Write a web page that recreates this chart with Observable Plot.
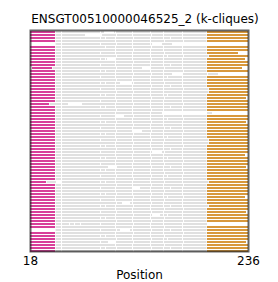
<!DOCTYPE html>
<html><head><meta charset="utf-8">
<script src="https://cdn.jsdelivr.net/npm/d3@7"></script>
<script src="https://cdn.jsdelivr.net/npm/@observablehq/plot@0.6"></script>
<style>body{margin:0;background:#fff}</style>
</head><body><div id="chart"></div>
<script>
const title = "ENSGT00510000046525_2 (k-cliques)";
const xLabel = "Position";
const xTicks = [18, 236];
const nRows = 74;

// magenta block per row (null = none)
const magentaStart = [18,18,18,18,null,18,18,18,18,18,18,18,20,18,18,18,18,18,18,18,18,18,18,18,18,18,18,18,18,18,18,18,18,18,18,18,18,18,18,18,18,18,18,18,18,18,18,18,18,18,18,18,18,18,18,18,18,18,18,18,18,18,18,18,18,18,null,18,18,18,18,18,18,18];
const magentaEnd   = [43,43,43,43,null,43,43,43,43,43,43,43,40,43,43,43,43,43,43,43,43,43,43,43,37,43,43,43,43,43,43,43,43,43,43,43,43,43,43,43,43,43,43,43,43,43,43,43,43,43,34,43,43,43,43,43,43,43,43,43,43,43,43,43,43,43,null,43,43,43,43,43,43,43];
// orange block per row (null = none)
const orangeStart = [195,195,195,195,null,195,195,195,197,195,195,195,195,195,null,195,195,195,195,197,197,195,195,195,195,195,195,null,195,195,195,195,195,195,195,195,197,197,195,195,195,195,195,195,195,195,195,195,195,195,197,195,195,195,195,195,195,195,197,195,195,195,195,195,null,195,195,195,195,195,195,195,195,195];
const orangeEnd   = [236,236,236,236,null,236,236,226,236,233,236,236,230,236,null,236,236,236,236,236,236,236,234,236,236,236,236,null,236,236,234,236,236,236,236,236,236,236,236,236,236,233,236,236,236,234,236,236,236,236,236,236,236,236,236,233,236,236,236,236,234,236,236,236,null,236,236,236,236,236,234,236,236,236];
// where the gray run ends per row
const grayEnd = [194.5,194.5,194.5,194.5,160,194.5,194.5,194.5,196.5,194.5,194.5,194.5,194.5,194.5,206,194.5,194.5,194.5,194.5,196.5,196.5,194.5,194.5,194.5,194.5,194.5,194.5,200,194.5,194.5,194.5,194.5,194.5,194.5,194.5,194.5,196.5,196.5,194.5,194.5,194.5,194.5,194.5,194.5,194.5,194.5,194.5,194.5,194.5,194.5,196.5,194.5,194.5,194.5,194.5,194.5,194.5,194.5,196.5,194.5,194.5,194.5,194.5,194.5,195,194.5,194.5,194.5,194.5,194.5,194.5,194.5,194.5,194.5];
// small white breaks inside each gray run
const grayGaps = [
 [49,88,103,120,138,151,170],
 [49,104,120,139,151,170],
 [49,88,93,103,121,138,151,158,170],
 [49,103,120,138,152,171],
 [49,88,104,120,138],
 [49,93,103,120,139,151,170],
 [49,103,121,138,151,170],
 [49,88,103,120,138,152,170],
 [49,104,120,138,151,155,171],
 [49,88,93,103,120,139,151,170],
 [49,103,121,138,151,170],
 [49,88,103,120,138,151,158,170],
 [49,104,120,138,152,170],
 [49,88,93,103,120,138,151,171],
 [49,103,121,139,151,170,195],
 [49,88,103,120,138,151,155,170],
 [49,104,120,138,151,170],
 [49,88,93,103,121,138,152,170],
 [49,103,120,139,151,158,170],
 [49,88,103,120,138,151,171],
 [49,104,121,138,151,170],
 [49,88,93,103,120,138,151,155,170],
 [49,103,120,139,152,170],
 [49,88,104,120,138,151,170],
 [49,103,121,138,151,171],
 [49,88,93,103,120,138,151,158,170],
 [49,104,120,139,151,170],
 [49,103,120,138,152,170],
 [49,88,103,121,138,151,170],
 [49,103,120,138,151,155,171],
 [49,88,93,104,120,139,151,170],
 [49,103,121,138,151,170],
 [49,88,103,120,138,152,158,170],
 [49,104,120,139,151,171],
 [49,88,93,103,121,138,151,170],
 [49,103,120,138,151,155,170],
 [49,88,104,120,139,152,170],
 [49,103,121,138,151,170],
 [49,88,93,103,120,138,151,171],
 [49,104,120,139,151,158,170],
 [49,88,103,121,138,152,170],
 [49,103,120,138,151,170],
 [49,88,93,104,120,139,151,155,170],
 [49,103,121,138,151,171],
 [49,88,103,120,138,152,170],
 [49,104,120,139,151,158,170],
 [49,88,93,103,121,138,151,170],
 [49,103,120,138,152,171],
 [49,88,104,120,139,151,155,170],
 [49,103,121,138,151,170],
 [49,88,93,103,120,138,152,170],
 [49,104,120,139,151,171],
 [49,88,103,121,138,151,158,170],
 [49,103,120,138,152,170],
 [49,88,93,104,120,139,151,170],
 [49,103,121,138,151,155,171],
 [49,88,103,120,138,152,170],
 [49,104,120,139,151,170],
 [49,88,93,103,121,138,151,158,170],
 [49,103,120,138,152,171],
 [49,88,104,120,139,151,170],
 [49,103,121,138,151,155,170],
 [49,88,93,103,120,138,152,170],
 [49,104,120,139,151,171],
 [49,57,62,68,88,103,121,138,151,170],
 [49,103,120,138,152,170],
 [49,88,104,120,139,151,158,170],
 [49,103,121,138,151,171],
 [49,88,93,103,120,138,152,170],
 [49,104,120,139,151,155,170],
 [49,88,103,121,138,151,171],
 [49,103,120,138,152,170],
 [49,88,93,104,120,139,151,158,170],
 [49,103,121,138,151,170]
];
// longer white holes: [row, from, to]
const grayHoles = [
 [0,92,102],[1,73,90],[4,140,150],[9,95,104],[12,130,138],[14,160,170],
 [17,108,120],[24,56,70],[27,150,195],[28,104,112],[33,120,130],
 [40,140,150],[45,96,104],[50,44,50],[52,120,128],[57,110,118],
 [61,140,148],[64,40,44],[66,108,118],[70,96,104]
];

const rowsIdx = d3.range(nRows);
const magenta = rowsIdx.filter(i => magentaEnd[i] != null)
  .map(i => ({row: i, x1: magentaStart[i], x2: magentaEnd[i]}));
const orange = rowsIdx.filter(i => orangeStart[i] != null)
  .map(i => ({row: i, x1: orangeStart[i], x2: orangeEnd[i]}));
const gray = [];
rowsIdx.forEach(i => {
  let start = (magentaEnd[i] ?? 43) + 0.6;
  const cuts = [
    ...grayGaps[i].map(g => [g, g + 1.0]),
    ...grayHoles.filter(h => h[0] === i).map(h => [h[1], h[2]])
  ].sort((a, b) => a[0] - b[0]);
  for (const [a, b] of cuts) {
    if (a > start) gray.push({row: i, x1: start, x2: Math.min(a, grayEnd[i])});
    start = Math.max(start, b);
  }
  if (grayEnd[i] > start) gray.push({row: i, x1: start, x2: grayEnd[i]});
});

const barH = 0.667;
const chart = Plot.plot({
  width: 278, height: 282,
  marginLeft: 30, marginRight: 30, marginTop: 30, marginBottom: 31,
  style: {fontFamily: "DejaVu Sans", fontSize: "12px", background: "#fff", color: "#000"},
  x: {domain: [18, 236], ticks: xTicks, tickSize: 0, tickPadding: 5, label: null, tickFormat: d => String(d)},
  y: {domain: [0, nRows], range: [31, 31 + 3 * nRows], axis: null},
  marks: [
    Plot.rect(gray, {x1: "x1", x2: "x2", y1: "row", y2: d => d.row + barH, fill: "#e0e0e0"}),
    Plot.rect(magenta, {x1: "x1", x2: "x2", y1: "row", y2: d => d.row + barH, fill: "#d8409a"}),
    Plot.rect(orange, {x1: "x1", x2: "x2", y1: "row", y2: d => d.row + barH, fill: "#d8983c"}),
    Plot.frame({stroke: "#222", strokeOpacity: 0.7, strokeWidth: 2}),
    Plot.text([title], {text: d => d, frameAnchor: "top", lineAnchor: "bottom", dy: -8, dx: 5.5, fontSize: 12, fill: "#000"}),
    Plot.text([xLabel], {text: d => d, frameAnchor: "bottom", lineAnchor: "bottom", dy: 27, fontSize: 12, fill: "#000"})
  ]
});
document.getElementById("chart").appendChild(chart);
</script>
</body></html>
